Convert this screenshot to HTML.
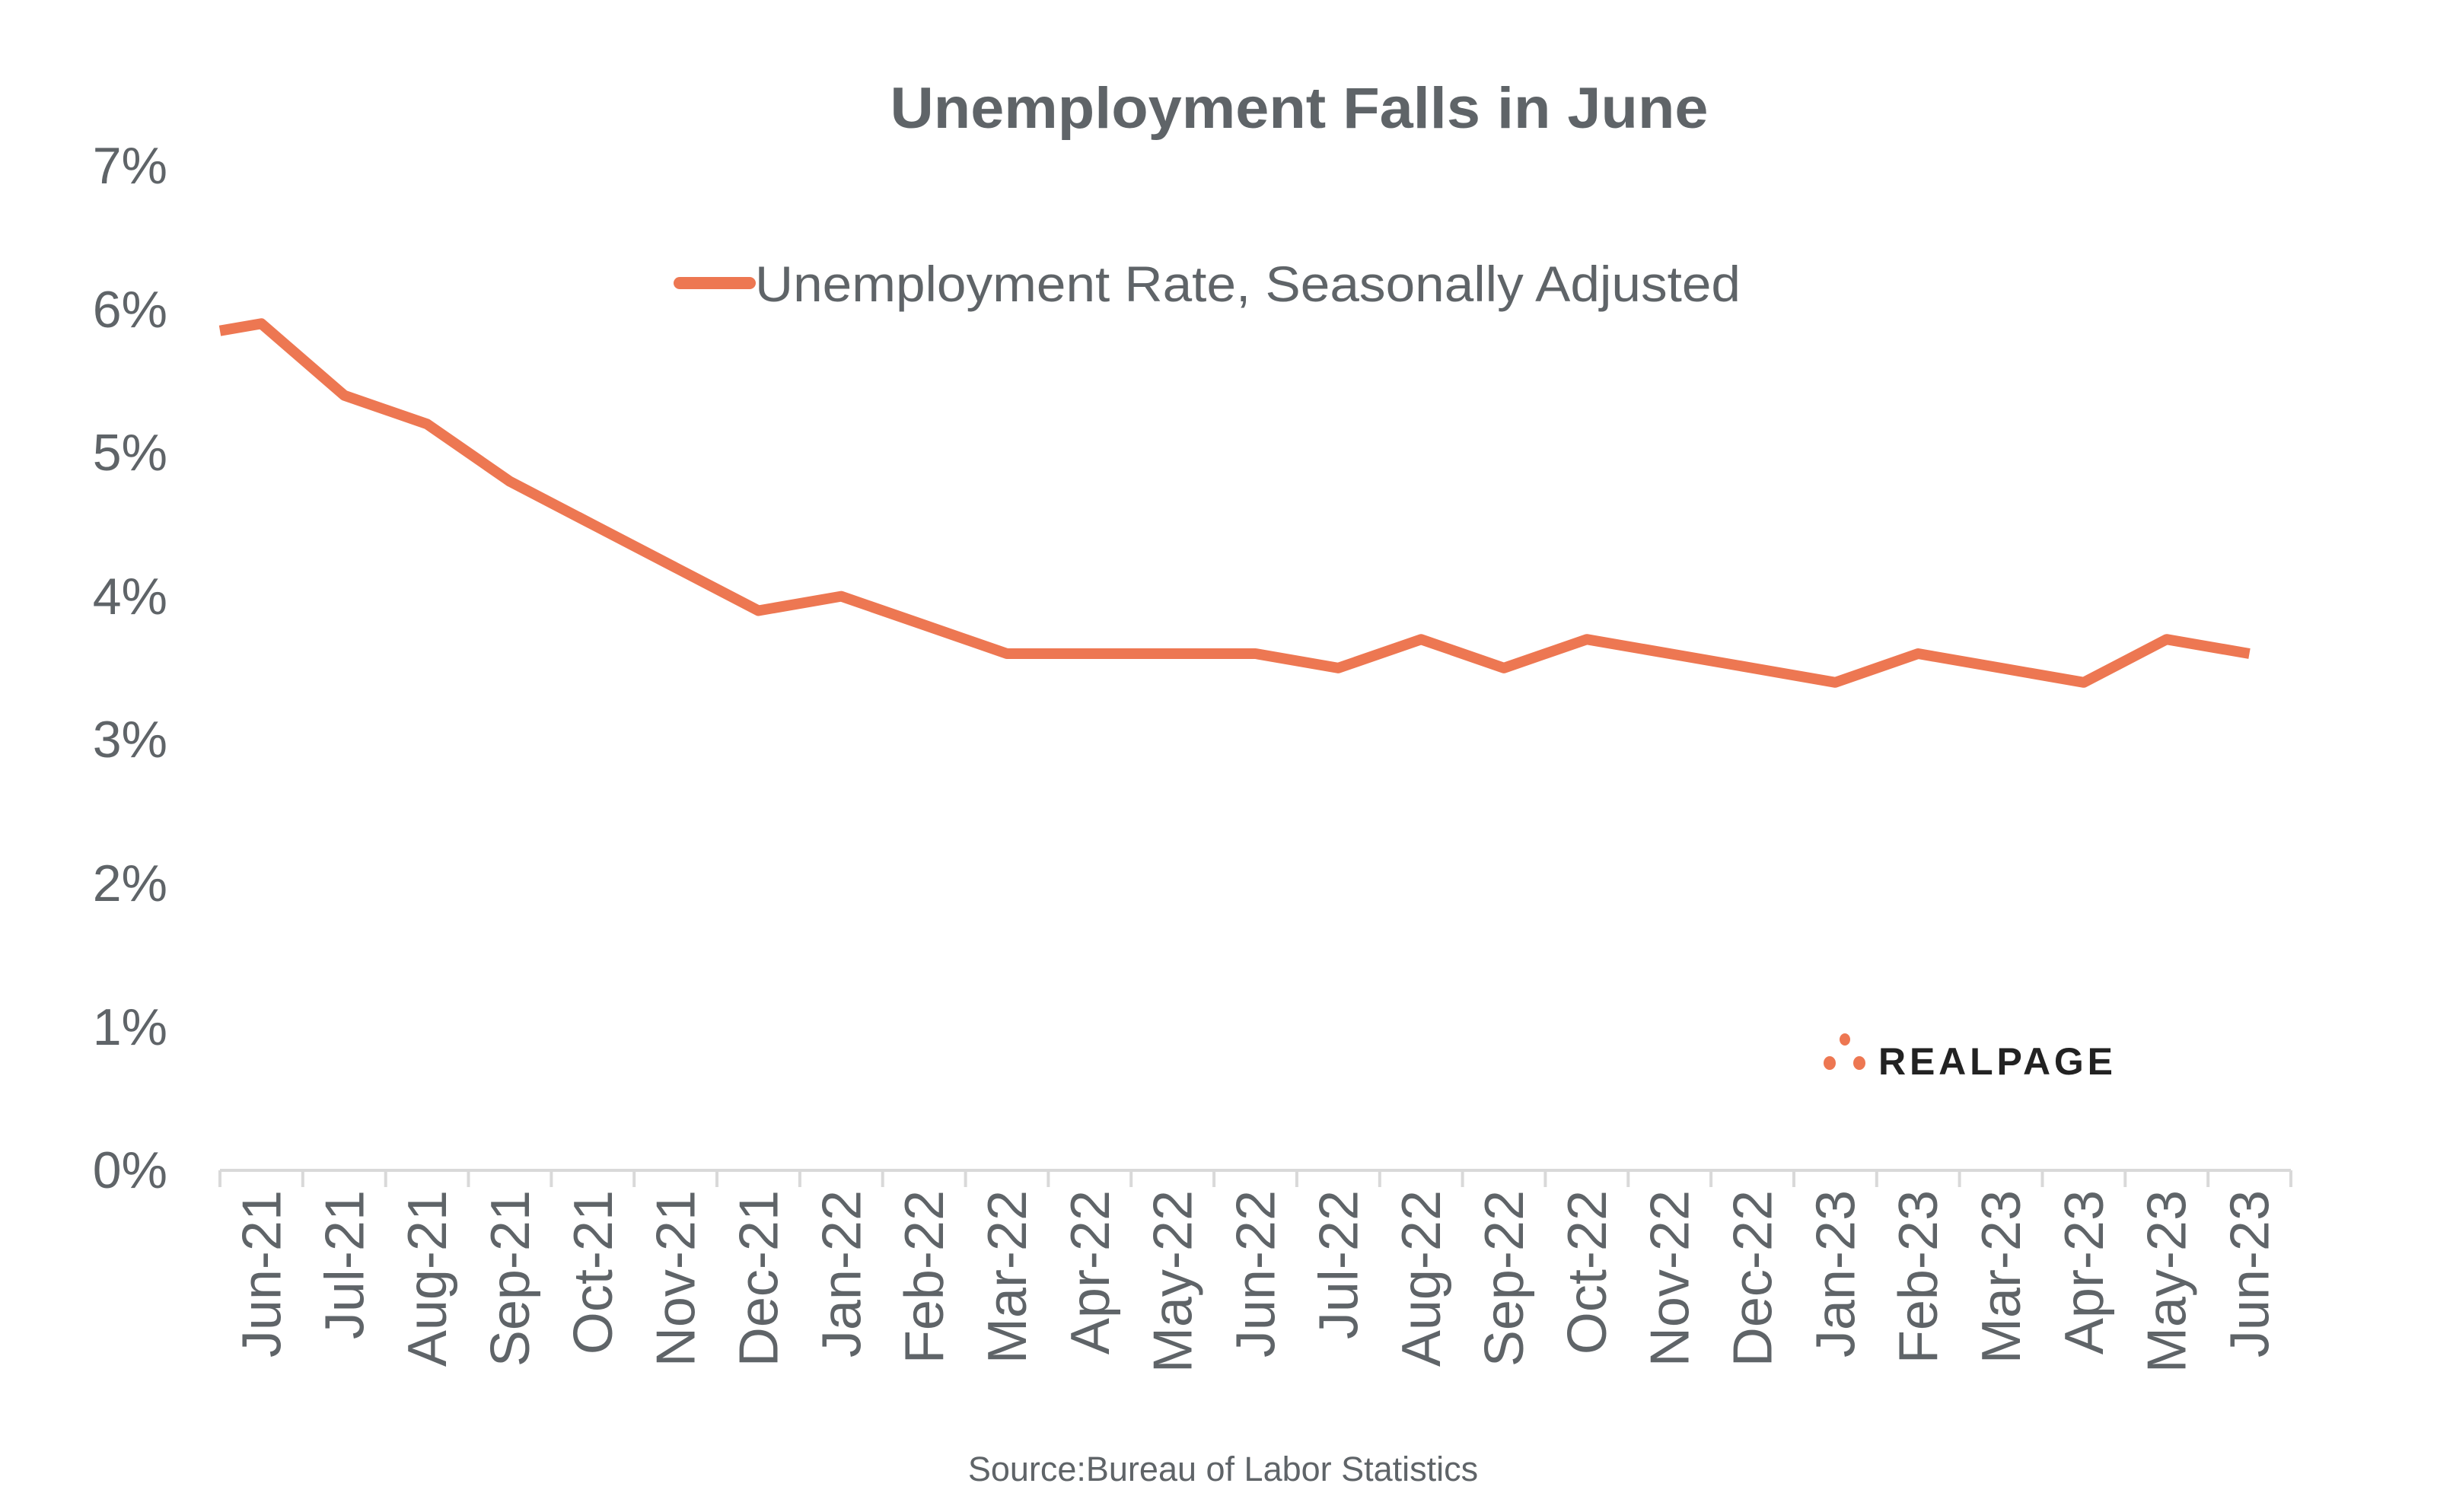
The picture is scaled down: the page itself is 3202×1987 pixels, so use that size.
<!DOCTYPE html>
<html><head><meta charset="utf-8"><style>html,body{margin:0;padding:0;background:#fff}svg{display:block}</style></head>
<body>
<svg width="3202" height="1987" viewBox="0 0 3202 1987" xmlns="http://www.w3.org/2000/svg" font-family="'Liberation Sans', sans-serif" fill="#5f6468">
<text x="1707" y="168" font-size="76" font-weight="bold" text-anchor="middle" textLength="1075" lengthAdjust="spacingAndGlyphs">Unemployment Falls in June</text>
<line x1="893" y1="372" x2="985" y2="372" stroke="#ED7752" stroke-width="16" stroke-linecap="round"/>
<text x="992" y="396" font-size="66" textLength="1295" lengthAdjust="spacingAndGlyphs">Unemployment Rate, Seasonally Adjusted</text>
<g font-size="68" text-anchor="end">
<text x="220" y="241">7%</text><text x="220" y="430">6%</text><text x="220" y="618">5%</text><text x="220" y="807">4%</text><text x="220" y="995">3%</text><text x="220" y="1184">2%</text><text x="220" y="1373">1%</text><text x="220" y="1561">0%</text>
</g>
<path stroke="#d9d9d9" stroke-width="4" fill="none" d="M289 1538H3010 M289 1538V1560 M397.8 1538V1560 M506.7 1538V1560 M615.5 1538V1560 M724.4 1538V1560 M833.2 1538V1560 M942 1538V1560 M1050.9 1538V1560 M1159.7 1538V1560 M1268.6 1538V1560 M1377.4 1538V1560 M1486.2 1538V1560 M1595.1 1538V1560 M1703.9 1538V1560 M1812.8 1538V1560 M1921.6 1538V1560 M2030.4 1538V1560 M2139.3 1538V1560 M2248.1 1538V1560 M2357 1538V1560 M2465.8 1538V1560 M2574.6 1538V1560 M2683.5 1538V1560 M2792.3 1538V1560 M2901.2 1538V1560 M3010 1538V1560"/>
<g font-size="72" text-anchor="end">
<text transform="translate(368.4,1564) rotate(-90)">Jun-21</text>
<text transform="translate(477.3,1564) rotate(-90)">Jul-21</text>
<text transform="translate(586.1,1564) rotate(-90)">Aug-21</text>
<text transform="translate(695,1564) rotate(-90)">Sep-21</text>
<text transform="translate(803.8,1564) rotate(-90)">Oct-21</text>
<text transform="translate(912.6,1564) rotate(-90)">Nov-21</text>
<text transform="translate(1021.5,1564) rotate(-90)">Dec-21</text>
<text transform="translate(1130.3,1564) rotate(-90)">Jan-22</text>
<text transform="translate(1239.1,1564) rotate(-90)">Feb-22</text>
<text transform="translate(1348,1564) rotate(-90)">Mar-22</text>
<text transform="translate(1456.8,1564) rotate(-90)">Apr-22</text>
<text transform="translate(1565.7,1564) rotate(-90)">May-22</text>
<text transform="translate(1674.5,1564) rotate(-90)">Jun-22</text>
<text transform="translate(1783.3,1564) rotate(-90)">Jul-22</text>
<text transform="translate(1892.2,1564) rotate(-90)">Aug-22</text>
<text transform="translate(2001,1564) rotate(-90)">Sep-22</text>
<text transform="translate(2109.8,1564) rotate(-90)">Oct-22</text>
<text transform="translate(2218.7,1564) rotate(-90)">Nov-22</text>
<text transform="translate(2327.5,1564) rotate(-90)">Dec-22</text>
<text transform="translate(2436.4,1564) rotate(-90)">Jan-23</text>
<text transform="translate(2545.2,1564) rotate(-90)">Feb-23</text>
<text transform="translate(2654,1564) rotate(-90)">Mar-23</text>
<text transform="translate(2762.9,1564) rotate(-90)">Apr-23</text>
<text transform="translate(2871.7,1564) rotate(-90)">May-23</text>
<text transform="translate(2980.5,1564) rotate(-90)">Jun-23</text>
</g>
<polyline fill="none" stroke="#ED7752" stroke-width="14" stroke-linejoin="round" points="289,434.7 343.4,425.3 452.3,519.6 561.1,557.3 670,632.7 778.8,689.3 887.6,745.9 996.5,802.5 1105.3,783.6 1214.1,821.3 1323,859 1431.8,859 1540.7,859 1649.5,859 1758.3,877.9 1867.2,840.2 1976,877.9 2084.8,840.2 2193.7,859 2302.5,877.9 2411.4,896.8 2520.2,859 2629,877.9 2737.9,896.8 2846.7,840.2 2955.5,859"/>
<g fill="#ED7752"><ellipse cx="2424" cy="1366" rx="7" ry="8"/><ellipse cx="2404" cy="1397" rx="8" ry="9"/><ellipse cx="2443" cy="1397" rx="8" ry="9"/></g>
<text x="2468" y="1412" font-size="50" font-weight="bold" fill="#222" textLength="308" lengthAdjust="spacing">REALPAGE</text>
<text x="1607" y="1946" font-size="45" text-anchor="middle">Source:Bureau of Labor Statistics</text>
</svg>
</body></html>
